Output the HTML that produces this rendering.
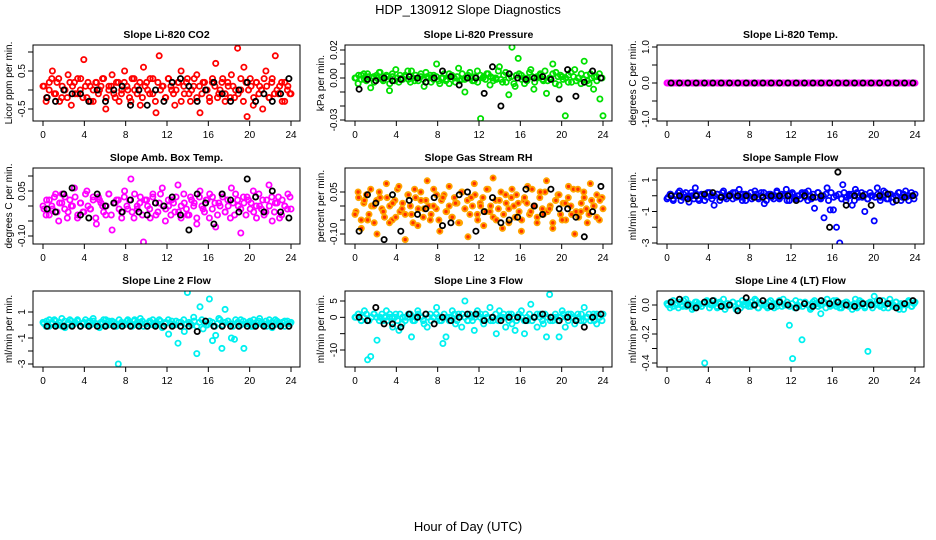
<!DOCTYPE html>
<html><head><meta charset="utf-8"><style>
body{margin:0;background:#fff}
svg{display:block;font-family:"Liberation Sans",sans-serif}
</style></head><body>
<svg id="chart" width="936" height="540" viewBox="0 0 936 540" xmlns="http://www.w3.org/2000/svg">
<rect width="936" height="540" fill="#fff"/>
<text x="468" y="14" text-anchor="middle" font-size="13">HDP_130912  Slope Diagnostics</text>
<text x="468" y="531" text-anchor="middle" font-size="13">Hour of Day (UTC)</text>
</svg>
<script>
const xTicks=[0,4,8,12,16,20,24];
const co2=[0.1,-0.3,0.2,0.5,-0.1,0.3,-0.2,0.0,0.4,-0.4,0.2,-0.1,0.3,0.8,-0.2,0.1,-0.3,0.2,0.0,0.3,-0.5,0.1,0.4,-0.2,0.2,-0.1,0.5,0.0,-0.3,0.3,0.1,-0.4,0.6,0.2,-0.1,0.3,-0.6,0.9,0.1,-0.2,0.3,0.0,-0.4,0.2,0.5,-0.1,0.3,-0.3,0.1,0.4,-0.6,0.2,0.0,-0.2,0.3,0.7,-0.1,0.2,-0.3,0.1,0.4,-0.2,1.1,0.0,0.6,-0.7,0.3,-0.4,0.2,0.1,-0.5,0.5,-0.2,0.3,0.9,-0.1,0.2,-0.3,0.1,-0.1];
const co2Core=[1,-2,0,3,-1,2,-3,1,0,-2,2,1,-1,3,0,-2,1,2,-3,0,2,-1,1,3,-2,0,1,-1,2,-3,0,2,1,-2,3,0,-1,2,-2,1,0,3,-1,-3,2,0,1,-2,3,1,-1,0,2,-3,1,2,-1,0,3,-2,1,-1,2,0,-3,2,1,-2,0,3,-1,2,-2,1,0,-1,3,-3,2,0,1,-2,2,-1,0,3,1,-2,2,-1,0,1,-3,2,0,-1];
const co2K=[-0.2,-0.3,0.0,-0.1,-0.1,-0.3,0.0,-0.3,0.0,0.1,-0.4,0.0,-0.4,0.0,-0.3,0.2,0.3,0.1,-0.3,0.0,0.2,-0.1,-0.3,0.0,0.2,-0.3,-0.1,-0.3,-0.1,0.3];
const prs=[0,-4,2,-1,3,-7,1,0,4,-2,2,-9,1,6,-3,0,2,-1,5,-2,0,3,-6,1,2,-1,10,-4,0,-2,3,1,-3,7,-1,-10,2,0,-2,5,-29,1,3,-5,0,-1,8,-3,4,-12,22,-6,14,2,-4,0,6,-8,1,3,-2,-11,0,10,4,-5,1,-27,2,-3,6,0,-4,12,-2,3,-8,1,-15,-27];
const prsCore=[0,2,-1,3,-2,1,0,-3,2,4,-1,0,1,-4,3,-2,0,2,-1,1,5,-3,0,2,-2,1,-1,4,0,-3,2,1,-2,0,3,-1,-4,2,0,1,-2,3,-1,0,4,-2,1,-3,2,0,-1,3,1,-2,0,5,-1,2,-3,0,1,-4,2,3,-1,0,-2,4,1,-3,0,2,-1,5,-2,0,3,-4,1,2,-1,0,-3,4,1,-2,0,3,-1,2,-4,0,1,-2,3,0];
const prsK=[-8,-1,-2,0,-2,-1,1,0,-3,0,5,1,-5,0,0,-11,8,-20,3,0,-1,0,1,-1,-15,6,-13,-3,5,0];
const tmp=[0,0,0,0,0,0,0,0,0,0,0,0,0,0,0,0,0,0,0,0,0,0,0,0,0,0,0,0,0,0,0,0,0,0,0,0,0,0,0,0,0,0,0,0,0,0,0,0,0,0,0,0,0,0,0,0,0,0,0,0,0,0,0,0,0,0,0,0,0,0,0,0,0,0,0,0,0,0,0,0];
const tmpCore=[0,0,0,0,0,0,0,0,0,0,0,0,0,0,0,0,0,0,0,0,0,0,0,0,0,0,0,0,0,0,0,0,0,0,0,0,0,0,0,0,0,0,0,0,0,0,0,0,0,0];
const tmpK=[0,0,0,0,0,0,0,0,0,0,0,0,0,0,0,0,0,0,0,0,0,0,0,0,0,0,0,0,0,0];
const amb=[0,-3,2,-1,4,-5,1,3,-2,0,6,-4,1,-2,5,-1,3,-6,2,0,-3,4,-8,1,2,-2,5,-1,9,-4,0,3,-12,2,-1,4,-3,1,6,-5,0,2,-2,7,-4,1,-3,3,0,-6,5,-1,2,-4,3,-7,1,4,-2,0,6,-3,2,-9,1,3,-1,5,-4,0,2,-2,7,-5,1,3,-3,0,4,-1];
const ambCore=[-1,2,-3,0,3,-2,1,4,-1,-4,2,0,3,-3,1,-2,4,0,-1,2,-4,3,1,-2,0,4,-3,1,2,-1,-4,3,0,2,-2,4,-1,1,-3,2,0,-4,3,1,-2,4,0,-1,2,-3,1,3,-2,0,4,-1,-3,2,1,-4,3,0,-2,2,4,-1,1,-3,0,3,-2,2,-4,1,4,0,-1,3,-3,2,1,-2,0,4,-1,-3,2,0,3,-2,1,-4,2,0,-1,3];
const ambK=[-1,-2,4,6,-3,-4,4,0,1,-2,2,-2,-3,1,0,3,-3,-8,4,1,-6,4,2,-2,9,3,-2,5,-2,-4];
const rh=[-3,5,-8,2,-5,6,0,-10,3,-2,8,-6,1,-4,7,-1,-12,4,-3,6,-7,2,-1,9,-5,0,4,-9,3,-2,7,-4,1,-6,5,-1,-11,3,8,-3,0,-7,6,-2,10,-5,2,-8,4,-1,6,-4,1,-9,3,7,-2,0,-6,5,-3,9,-1,-8,2,4,-5,1,7,-3,-10,6,-2,3,-6,8,0,-4,2,-1];
const rhCore=[-2,3,-5,1,4,-3,0,-6,2,5,-1,-4,3,0,-5,2,6,-2,1,-3,4,0,-6,3,-1,5,-4,2,0,-3,6,-1,-5,2,4,-2,0,-4,3,1,-6,5,-1,2,-3,0,4,-5,1,3,-2,6,0,-4,2,-1,5,-3,1,-6,3,0,4,-2,-5,2,1,-3,6,0,-4,3,-1,5,-2,0,-6,2,4,-3,1,-5,3,0,6,-2,-4,1,5,-1,-3,2,0,4,-5,3];
const rhK=[-9,4,1,-12,4,-9,2,-3,-1,3,-7,-6,4,5,-9,-2,3,-6,-5,-4,6,0,-3,6,-1,-1,-4,-11,-2,7];
const sf=[-2,1,-3,0,3,-1,2,-4,0,5,-2,1,-3,2,0,-6,1,-1,3,-2,0,2,-1,4,-3,1,0,-2,3,-1,2,-5,0,1,-2,3,-1,0,4,-3,1,-2,0,2,-1,3,-2,-8,2,-1,-14,5,-9,-9,-20,-30,7,-3,1,-6,4,-1,2,-10,-2,0,-16,5,-1,3,-2,1,-4,0,2,-1,3,-3,0,1];
const sfCore=[-1,1,-2,0,2,-3,1,-1,0,2,-2,1,-3,0,1,-1,2,-2,0,1,-3,2,-1,0,1,-2,2,0,-1,1,-3,0,2,-1,1,-2,0,2,-3,1,-1,0,2,-2,1,0,-3,1,2,-1,0,-2,1,2,-3,0,1,-1,2,-2,0,1,-3,2,-1,0,1,-2,2,-1,0,1,-3,2,0,-1,1,-2,2,0,-1,1,-3,0,2,-2,1,-1,0,2,-3,1,-1,0,2,-2];
const sfK=[0,0,-2,0,1,2,-1,0,0,0,-1,-1,0,0,0,-3,0,-1,0,-20,15,-6,0,0,-6,0,1,-3,-1,0];
const l2=[2,-1,4,1,3,0,5,-2,2,3,1,4,-1,2,0,3,5,1,-2,2,4,0,3,-1,-30,2,1,4,0,3,2,5,-1,1,3,0,2,4,-2,1,-7,3,0,-14,2,-5,25,1,6,-22,14,-3,0,20,-12,-8,5,-18,12,3,-10,-11,2,4,-18,1,3,-1,2,5,0,3,1,-2,4,2,0,3,1,2];
const l2Core=[1,3,-1,2,4,0,2,-1,3,1,4,0,2,3,-1,1,4,2,0,3,1,-1,2,4,0,3,1,2,-1,4,1,0,3,2,-1,4,0,2,3,1,-1,2,4,0,1,3,-1,2,4,1,0,3,2,-1,4,1,2,0,3,-1,2,4,1,0,3,2,-1,1,4,0,2,3,1,-1,4,2,0,3,1,2,-1,4,0,3,2,1,-1,4,2,0,3,1,2,-1,3,1];
const l2K=[-1,-1,-1,-1,-1,-1,-1,-1,-1,-1,-1,-1,-1,-1,-1,-1,-1,-1,-5,3,-1,-1,-1,-1,-1,-1,-1,-1,-1,-1];
const l3=[0,1,-1,2,-13,-12,1,-7,0,-1,2,0,-3,1,-4,-2,0,1,-6,-1,2,0,-2,-3,1,0,3,-1,-8,-6,0,2,-2,1,-3,5,-1,0,-4,2,1,-2,0,3,-1,-5,2,0,-3,1,-2,-4,0,2,-5,-1,4,0,-3,1,-2,-6,7,-1,0,-6,2,-3,1,0,-2,1,-1,3,0,-1,1,-2,0,1];
const l3Core=[0,1,-1,0,1,-1,0,1,0,-1,1,0,-1,1,0,0,-1,1,0,-1,0,1,-1,0,1,0,-1,1,0,-1,0,1,0,-1,1,0,-1,0,1,-1,0,1,0,-1,1,-1,0,1,0,-1,1,0,-1,0,1,-1,0,1,0,-1,1,0,-1,1,0,-1,0,1,-1,0,1,0,-1,1,0,-1,0,1,-1,0,1,0,-1,1,0,-1,0,1,-1,0,1,0,-1,1,0,-1];
const l3K=[0,-1,3,-2,-2,-3,1,0,1,-2,0,-1,0,1,1,-1,0,-1,0,0,-1,0,1,0,-1,0,-1,-3,0,1];
const l4=[1,-2,3,0,2,-1,4,0,-3,2,1,-1,-40,2,0,3,-2,1,4,-1,0,2,-3,1,3,0,-1,2,4,-2,1,0,-2,3,1,-1,2,4,0,-14,-37,3,-1,-24,2,0,-2,3,1,-6,2,4,-1,0,3,-2,1,2,0,-3,4,-1,2,-2,-32,1,6,3,0,-2,1,4,-1,2,-3,0,1,3,-1,2];
const l4Core=[0,2,-1,1,-2,0,3,-1,1,0,-2,2,0,-1,1,3,-2,0,1,-1,2,0,-3,1,0,2,-1,1,-2,0,2,1,-1,0,3,-2,1,0,-1,2,0,-2,1,3,-1,0,2,-1,1,-2,0,2,-1,1,0,-3,2,1,-1,0,2,-2,1,0,3,-1,0,-2,1,2,-1,0,1,-2,3,0,-1,1,2,-2,0,1,-1,3,0,-2,1,0,2,-1,1,-3,0,2,-1,1];
const l4K=[2,4,0,-2,2,3,-1,0,-4,5,0,3,-1,2,0,-2,1,-1,3,1,2,0,-1,1,0,3,1,-2,1,3];

const NS="http://www.w3.org/2000/svg";
const svg=document.getElementById('chart');
function mk(tag,attrs,parent){const e=document.createElementNS(NS,tag);for(const k in attrs)e.setAttribute(k,attrs[k]);(parent||svg).appendChild(e);return e;}
const colX=[33,345,657], rowY=[45,168,291], boxW=267, boxH=76;
const panels=[
 {t:"Slope Li-820 CO2",yl:"Licor ppm per min.",c:"#ff0000",f:"none",d:co2,m:co2Core,ms:0.1,k:co2K,s:1,a:[0.5,71],b:[-0.5,109],ticks:[1,0.5,0,-0.5],lab:["","0.5","","-0.5"]},
 {t:"Slope Li-820 Pressure",yl:"kPa per min.",c:"#00e000",f:"none",d:prs,m:prsCore,ms:0.001,k:prsK,s:0.001,a:[0.02,50],b:[0,78],ticks:[0.02,0.01,0,-0.01,-0.02,-0.03],lab:["0.02","","0.00","","","-0.03"]},
 {t:"Slope Li-820 Temp.",yl:"degrees C per min.",c:"#ff00ff",f:"none",d:tmp,m:tmpCore,ms:1,k:tmpK,s:1,a:[1,47],b:[-1,119],ticks:[1,0.5,0,-0.5,-1],lab:["1.0","","0.0","","-1.0"]},
 {t:"Slope Amb. Box Temp.",yl:"degrees C per min.",c:"#ff00ff",f:"none",d:amb,m:ambCore,ms:0.01,k:ambK,s:0.01,a:[0.05,191],b:[-0.10,236],ticks:[0.1,0.05,0,-0.05,-0.1],lab:["","0.05","","","-0.10"]},
 {t:"Slope Gas Stream RH",yl:"percent per min.",c:"#ffa500",f:"#ff3000",d:rh,m:rhCore,ms:0.01,k:rhK,s:0.01,a:[0.05,192],b:[-0.10,234],ticks:[0.05,0,-0.05,-0.1],lab:["0.05","","","-0.10"]},
 {t:"Slope Sample Flow",yl:"ml/min per min.",c:"#0000ff",f:"none",d:sf,m:sfCore,ms:0.1,k:sfK,s:0.1,a:[1,180],b:[-3,243],ticks:[1,0,-1,-2,-3],lab:["1","","-1","","-3"]},
 {t:"Slope Line 2 Flow",yl:"ml/min per min.",c:"#00f0f0",f:"none",d:l2,m:l2Core,ms:0.1,k:l2K,s:0.1,a:[1,312],b:[-3,364],ticks:[1,0,-1,-2,-3],lab:["1","","-1","","-3"]},
 {t:"Slope Line 3 Flow",yl:"ml/min per min.",c:"#00f0f0",f:"none",d:l3,m:l3Core,ms:1,k:l3K,s:1,a:[5,301],b:[-10,350],ticks:[5,0,-5,-10],lab:["5","0","","-10"]},
 {t:"Slope Line 4 (LT) Flow",yl:"ml/min per min.",c:"#00f0f0",f:"none",d:l4,m:l4Core,ms:0.01,k:l4K,s:0.01,a:[0,305],b:[-0.4,363],ticks:[0,-0.1,-0.2,-0.3,-0.4],lab:["0.0","","-0.2","","-0.4"]}
];
panels.forEach((p,i)=>{
 const bx=colX[i%3], by=rowY[Math.floor(i/3)];
 const x0=bx+10, xs=248/24;
 const X=h=>x0+h*xs;
 const Y=v=>p.a[1]+(v-p.a[0])*(p.b[1]-p.a[1])/(p.b[0]-p.a[0]);
 const g=mk('g',{});
 
 
 const ti=mk('text',{x:bx+boxW/2,y:by-7,'text-anchor':'middle','font-size':10.5,'font-weight':'bold'},g);ti.textContent=p.t;
 
 
 const clip=mk('clipPath',{id:'c'+i},g);mk('rect',{x:bx,y:by,width:boxW,height:boxH},clip);
 const pts=mk('g',{'clip-path':'url(#c'+i+')'},g);
 p.m.forEach((v,j)=>{const h=0.1+j*23.8/(p.m.length-1);
  const c=mk('circle',{cx:X(h).toFixed(1),cy:Y(v*p.ms).toFixed(1),r:2.6,fill:p.f,stroke:p.c,'stroke-width':1.8},pts);
  
  });
 p.d.forEach((v,j)=>{const h=j*24/(p.d.length-1);
  const c=mk('circle',{cx:X(h).toFixed(1),cy:Y(v*p.s).toFixed(1),r:2.6,fill:p.f,stroke:p.c,'stroke-width':1.8},pts);
  
  });
 p.k.forEach((v,j)=>{const h=0.4+j*23.4/(p.k.length-1);
  const c=mk('circle',{cx:X(h).toFixed(1),cy:Y(v*p.s).toFixed(1),r:2.6,fill:'none',stroke:'#000','stroke-width':1.8},pts);
  
  });
 mk('rect',{x:bx,y:by,width:boxW,height:boxH,fill:'none',stroke:'#000','stroke-width':1},g);
 xTicks.forEach(t=>{mk('line',{x1:X(t),x2:X(t),y1:by+boxH,y2:by+boxH+5,stroke:'#000'},g);
  const tx=mk('text',{x:X(t),y:by+boxH+17,'text-anchor':'middle','font-size':10},g);tx.textContent=t;
  
  });
 p.ticks.forEach((t,j)=>{const yy=Y(t);mk('line',{x1:bx-5,x2:bx,y1:yy,y2:yy,stroke:'#000'},g);
  if(p.lab[j]){const tx=mk('text',{x:bx-8,y:yy,'text-anchor':'middle','font-size':10,transform:`rotate(-90 ${bx-8} ${yy})`},g);tx.textContent=p.lab[j];
  
  }});
 const yc=by+boxH/2;
 const yl=mk('text',{x:bx-21,y:yc,'text-anchor':'middle','font-size':10,transform:`rotate(-90 ${bx-21} ${yc})`},g);yl.textContent=p.yl;
 
 
});
</script>
</body></html>
